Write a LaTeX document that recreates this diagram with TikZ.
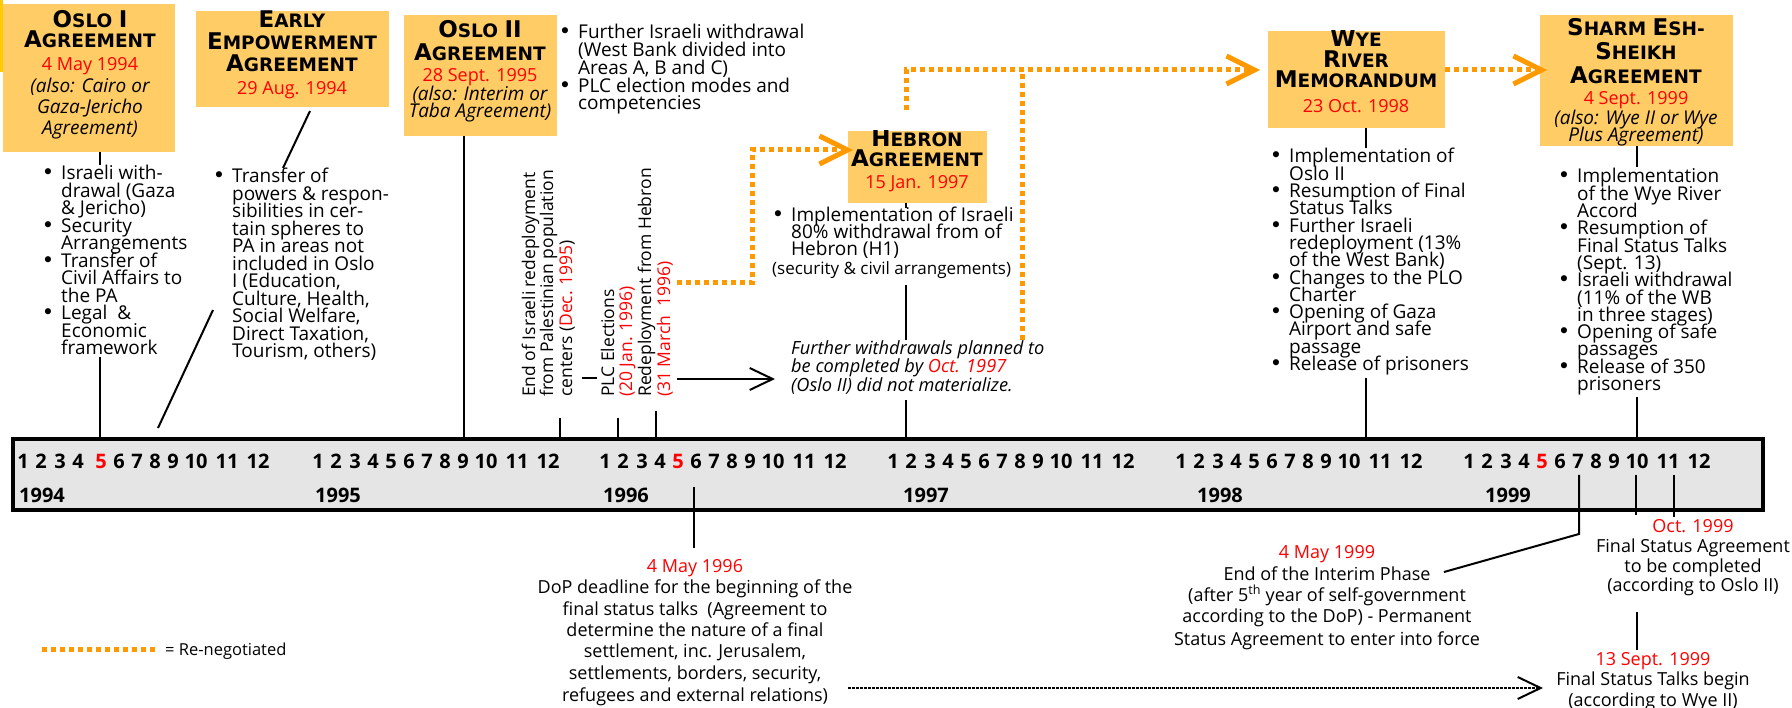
\documentclass[tikz,border=0pt]{standalone}
\usepackage{fontspec}
\setmainfont{Open Sans}
\newfontfamily\ttlfont{DejaVu Sans}
\usetikzlibrary{arrows.meta}
\definecolor{boxfill}{RGB}{255,204,102}
\definecolor{renegc}{RGB}{255,153,0}
\definecolor{barfill}{RGB}{229,229,229}
\definecolor{datered}{RGB}{255,0,0}
\definecolor{goldstrip}{RGB}{255,204,0}
\newcommand\bigc[1]{{\fontsize{23}{23}\selectfont #1}}
\newcommand\smc[1]{{\fontsize{18.5}{18.5}\selectfont #1}}
\newcommand\bul{\llap{{\ttlfont\fontsize{21}{21}\selectfont\textbullet}\hspace{7pt}}}
\newcommand\rd[1]{\textcolor{datered}{#1}}
\newcommand\blist[5]{\foreach \itm [count=\i] in {#5} {\node[li] (#1-\i) at ({#2},{#3+(\i-1)*#4}) {\itm};}}
\begin{document}
\begin{tikzpicture}[x=1pt,y=-1pt,
  agbox/.style={fill=boxfill, draw=none, inner sep=0pt, anchor=north west},
  ttl/.style={anchor=base, inner sep=0pt, font=\ttlfont\bfseries},
  dt/.style={anchor=base, inner sep=0pt, text=datered, font=\fontsize{18}{18}\selectfont},
  alsot/.style={anchor=base, inner sep=0pt, font=\fontsize{19}{19}\selectfont\itshape},
  li/.style={anchor=base west, inner sep=0pt, font=\fontsize{19}{19}\selectfont},
  ctr/.style={anchor=base, inner sep=0pt, font=\fontsize{18}{18}\selectfont},
  rot/.style={anchor=base west, inner sep=0pt, rotate=90, font=\fontsize{17.5}{17.5}\selectfont},
  itl/.style={anchor=base west, inner sep=0pt, font=\fontsize{18.2}{18.2}\selectfont\itshape},
  mon/.style={anchor=base, inner sep=0pt, font=\fontsize{20}{20}\selectfont\bfseries},
  yrs/.style={anchor=base west, inner sep=0pt, font=\fontsize{20}{20}\selectfont\bfseries},
  conn/.style={line width=2pt, draw=black},
  reneg/.style={line width=5pt, draw=renegc, dash pattern=on 5pt off 4pt},
  rtip/.style={-{Straight Barb[length=28pt,width=28pt,line width=5pt]}},
  btip/.style={-{Straight Barb[length=23pt,width=22pt,line width=2pt]}}
]
\useasboundingbox (0,0) rectangle (1792,708);
\fill[white] (0,0) rectangle (1792,708);
\fill[goldstrip] (0,0) rectangle (3,72);

% ---------- agreement boxes ----------
\node[agbox, minimum width=172pt, minimum height=148pt] (oslo1box) at (3,4) {};
\node[agbox, minimum width=193pt, minimum height=96pt] (eebox) at (196,11) {};
\node[agbox, minimum width=153pt, minimum height=121pt] (oslo2box) at (404,15) {};
\node[agbox, minimum width=139pt, minimum height=72pt] (hebbox) at (848,131) {};
\node[agbox, minimum width=177pt, minimum height=97pt] (wyebox) at (1268,31) {};
\node[agbox, minimum width=193pt, minimum height=131pt] (sharmbox) at (1540,15) {};

% titles
\begin{scope}
\clip (oslo1box.north west) rectangle (oslo1box.south east);
\node[ttl] (o1t1) at (90,28) {\bigc{O}\smc{SLO }\bigc{I}};
\node[ttl] (o1t2) at (90,48) {\bigc{A}\smc{GREEMENT}};
\node[dt] (o1t3) at (90,71) {4 May 1994};
\node[alsot] (o1t4) at (90,93) {(also: Cairo or};
\node[alsot] (o1t5) at (90,114) {Gaza-Jericho};
\node[alsot] (o1t6) at (90,135) {Agreement)};
\end{scope}
\begin{scope}
\clip (eebox.north west) rectangle (eebox.south east);
\node[ttl] (eet1) at (292,28) {\bigc{E}\smc{ARLY}};
\node[ttl] (eet2) at (292,50) {\bigc{E}\smc{MPOWERMENT}};
\node[ttl] (eet3) at (292,72) {\bigc{A}\smc{GREEMENT}};
\node[dt] (eet4) at (292,95) {29 Aug. 1994};
\end{scope}
\begin{scope}
\clip (oslo2box.north west) rectangle (oslo2box.south east);
\node[ttl] (o2t1) at (480,38) {\bigc{O}\smc{SLO }\bigc{II}};
\node[ttl] (o2t2) at (480,61) {\bigc{A}\smc{GREEMENT}};
\node[dt] (o2t3) at (480,82) {28 Sept. 1995};
\node[alsot] (o2t4) at (480,101) {(also: Interim or};
\node[alsot] (o2t5) at (480,118) {Taba Agreement)};
\end{scope}
\begin{scope}
\clip (hebbox.north west) rectangle (hebbox.south east);
\node[ttl] (ht1) at (917,147) {\bigc{H}\smc{EBRON}};
\node[ttl] (ht2) at (917,167) {\bigc{A}\smc{GREEMENT}};
\node[dt] (ht3) at (917,189) {15 Jan. 1997};
\end{scope}
\begin{scope}
\clip (wyebox.north west) rectangle (wyebox.south east);
\node[ttl] (wt1) at (1356,47) {\bigc{W}\smc{YE}};
\node[ttl] (wt2) at (1356,68) {\bigc{R}\smc{IVER}};
\node[ttl] (wt3) at (1356,88) {\bigc{M}\smc{EMORANDUM}};
\node[dt] (wt4) at (1356,113) {23 Oct. 1998};
\end{scope}
\begin{scope}
\clip (sharmbox.north west) rectangle (sharmbox.south east);
\node[ttl] (st1) at (1636,36) {\bigc{S}\smc{HARM }\bigc{E}\smc{SH-}};
\node[ttl] (st2) at (1636,60) {\bigc{S}\smc{HEIKH}};
\node[ttl] (st3) at (1636,84) {\bigc{A}\smc{GREEMENT}};
\node[dt] (st4) at (1636,105) {4 Sept. 1999};
\node[alsot] (st5) at (1636,125) {(also: Wye II or Wye};
\node[alsot] (st6) at (1636,142) {Plus Agreement)};
\end{scope}

% ---------- bullet lists ----------
\blist{o1l}{61}{180}{17.5}{{\bul Israeli with-},{drawal (Gaza},{\& Jericho)},{\bul Security},{Arrangements},{\bul Transfer of},{Civil Affairs to},{the PA},{\bul Legal\ \ \&},{Economic},{framework}}
\blist{eel}{232}{183}{17.5}{{\bul Transfer of},{powers \& respon-},{sibilities in cer-},{tain spheres to},{PA in areas not},{included in Oslo},{I (Education,},{Culture, Health,},{Social Welfare,},{Direct Taxation,},{Tourism, others)}}
\blist{o2l}{578}{39}{17.75}{{\bul Further Israeli withdrawal},{(West Bank divided into},{Areas A, B and C)},{\bul PLC election modes and},{competencies}}
\blist{hl}{791}{222}{17}{{\bul Implementation of Israeli},{80\% withdrawal from of},{Hebron (H1)}}
\node[anchor=base west, inner sep=0pt, font=\fontsize{17}{17}\selectfont] (hsec) at (772,275) {(security \& civil arrangements)};
\blist{wl}{1289}{163}{17.3}{{\bul Implementation of},{Oslo II},{\bul Resumption of Final},{Status Talks},{\bul Further Israeli},{redeployment (13\%},{of the West Bank)},{\bul Changes to the PLO},{Charter},{\bul Opening of Gaza},{Airport and safe},{passage},{\bul Release of prisoners}}
\blist{sl}{1577}{183}{17.3}{{\bul Implementation},{of the Wye River},{Accord},{\bul Resumption of},{Final Status Talks},{(Sept. 13)},{\bul Israeli withdrawal},{(11\% of the WB},{in three stages)},{\bul Opening of safe},{passages},{\bul Release of 350},{prisoners}}

% ---------- rotated 1995/1996 labels ----------
\node[rot] (r1) at (535,397) {End of Israeli redeployment};
\node[rot] (r2) at (553,397) {from Palestinian population};
\node[rot] (r3) at (572,397) {centers (\rd{Dec. 1995})};
\node[rot] (r4) at (614,397) {PLC Elections};
\node[rot] (r5) at (632,397) {\rd{(20 Jan. 1996)}};
\node[rot] (r6) at (651,397) {Redeployment from Hebron};
\node[rot] (r7) at (670,397) {\rd{(31 March\ \ 1996)}};

% further withdrawals note
\node[itl] (fw1) at (791,355) {Further withdrawals planned to};
\node[itl] (fw2) at (791,373) {be completed by \rd{Oct. 1997}};
\node[itl] (fw3) at (791,392) {(Oslo II) did not materialize.};

% ---------- timeline bar ----------
\node[draw=black, line width=4pt, fill=barfill, minimum width=1750pt, minimum height=71pt, inner sep=0pt, anchor=north west] (bar) at (11,437) {};
\foreach \yr/\base/\gp/\rr in {1994/23/5/1,1995/318/0/0,1996/605/0/1,1997/893/0/0,1998/1181/0/0,1999/1469/0/1}{
  \foreach \m/\off in {1/0,2/18,3/37,4/55,5/73,6/91,7/109,8/127,9/145,10/168,11/199,12/230}{
    \pgfmathsetmacro\xx{\base+\off+(\m>4)*\gp}
    \def\mc{black}
    \ifnum\m=5 \ifnum\rr=1 \def\mc{datered}\fi\fi
    \node[mon, text=\mc] (m\yr-\m) at (\xx,468) {\m};
  }
}
\foreach \yr/\xx in {1994/19,1995/315,1996/603,1997/903,1998/1197,1999/1485}
  \node[yrs] (y\yr) at (\xx,502) {\yr};

% ---------- connectors ----------
\coordinate (o1low) at (100,357);
\draw[conn] (oslo1box.south -| o1low) -- ++(0,13);
\draw[conn] (o1low) -- (o1low |- bar.north);
\coordinate (ee1) at (310,111); \coordinate (ee2) at (283,168);
\draw[conn] (ee1) -- (ee2);
\coordinate (ee3) at (213,310); \coordinate (ee4) at (158,428);
\draw[conn] (ee3) -- (ee4);
\coordinate (o2x) at (464,0);
\draw[conn] (oslo2box.south -| o2x) -- (o2x |- bar.north);
\coordinate (dec95) at (560,418); \draw[conn] (dec95) -- (dec95 |- bar.north);
\coordinate (jan96) at (618,418); \draw[conn] (jan96) -- (jan96 |- bar.north);
\coordinate (mar96) at (656,411); \draw[conn] (mar96) -- (mar96 |- bar.north);
\coordinate (mk1) at (582,378); \coordinate (mk2) at (597,378);
\draw[conn] (mk1) -- (mk2);
\coordinate (hx) at (906,208);
\draw[conn] (hebbox.south -| hx) -- (hx);
\coordinate (hm1) at (906,285); \coordinate (hm2) at (906,340);
\draw[conn] (hm1) -- (hm2);
\coordinate (hm3) at (906,400);
\draw[conn] (hm3) -- (hm3 |- bar.north);
\coordinate (wx) at (1366,148);
\draw[conn] (wyebox.south -| wx) -- (wx);
\coordinate (wlow) at (1366,378);
\draw[conn] (wlow) -- (wlow |- bar.north);
\coordinate (sx) at (1637,167);
\draw[conn] (sharmbox.south -| sx) -- (sx);
\coordinate (slow) at (1637,397);
\draw[conn] (slow) -- (slow |- bar.north);

% further withdrawals arrow
\coordinate (fa1) at (677,379); \coordinate (fa2) at (775,379);
\draw[conn, btip] (fa1) -- (fa2);

% below the bar
\coordinate (d96a) at (694,487); \coordinate (d96b) at (694,548);
\draw[conn] (d96a) -- (d96b);
\node[dt] (d96t) at (695,572) {4 May 1996};
\node[ctr] (d96l1) at (695,593) {DoP deadline for the beginning of the};
\node[ctr] (d96l2) at (695,615) {final status talks\ \ (Agreement to};
\node[ctr] (d96l3) at (695,636) {determine the nature of a final};
\node[ctr] (d96l4) at (695,657) {settlement, inc. Jerusalem,};
\node[ctr] (d96l5) at (695,679) {settlements, borders, security,};
\node[ctr] (d96l6) at (695,701) {refugees and external relations)};

\coordinate (e99a) at (1579,475); \coordinate (e99b) at (1579,534); \coordinate (e99c) at (1444,572);
\draw[conn] (e99a) -- (e99b) -- (e99c);
\node[dt] (e99t) at (1327,558) {4 May 1999};
\node[ctr] (e99l1) at (1327,580) {End of the Interim Phase};
\node[ctr] (e99l2) at (1327,601) {(after 5\textsuperscript{th} year of self-government};
\node[ctr] (e99l3) at (1327,622) {according to the DoP) - Permanent};
\node[ctr] (e99l4) at (1327,645) {Status Agreement to enter into force};

\coordinate (oc1) at (1636,475); \coordinate (oc2) at (1636,515);
\coordinate (oc3) at (1674,475); \coordinate (oc4) at (1674,517);
\draw[conn] (oc1) -- (oc2);
\draw[conn] (oc3) -- (oc4);
\node[dt] (oct) at (1693,532) {Oct. 1999};
\node[ctr] (ocl1) at (1693,552) {Final Status Agreement};
\node[ctr] (ocl2) at (1693,572) {to be completed};
\node[ctr] (ocl3) at (1693,591) {(according to Oslo II)};

\coordinate (fs1) at (1637,612); \coordinate (fs2) at (1637,650);
\draw[conn] (fs1) -- (fs2);
\node[dt] (fst) at (1653,665) {13 Sept. 1999};
\node[ctr] (fsl1) at (1653,685) {Final Status Talks begin};
\node[ctr] (fsl2) at (1653,706) {(according to Wye II)};

% dotted arrow from DoP deadline to Final Status Talks
\coordinate (dpa) at (848,688); \coordinate (dpb) at (1543,688);
\draw[line width=2.5pt, dash pattern=on 2.5pt off 1.5pt, btip] (dpa) -- (dpb);

% ---------- re-negotiated paths ----------
\coordinate (rn1a) at (677,283); \coordinate (rn1b) at (752,150); \coordinate (rn1tip) at (853,150);
\draw[reneg, rtip] (rn1a) -- (rn1b |- rn1a) -- (rn1b) -- (rn1tip);
\coordinate (rn2a) at (906,110); \coordinate (rn2tip) at (1260,70);
\draw[reneg, rtip] (rn2a) -- (rn2a |- rn2tip) -- (rn2tip);
\coordinate (rn3a) at (1022,340);
\draw[reneg] (rn3a) -- (rn3a |- rn2tip);
\coordinate (rn4tip) at (1547,70);
\draw[reneg, rtip] (wyebox.east |- rn4tip) -- (rn4tip);

% legend
\coordinate (lg1) at (42,649); \coordinate (lg2) at (158,649);
\draw[reneg] (lg1) -- (lg2);
\node[anchor=base west, inner sep=0pt, font=\fontsize{16.5}{16.5}\selectfont] (lgt) at (165,655) {= Re-negotiated};
\end{tikzpicture}
\end{document}
